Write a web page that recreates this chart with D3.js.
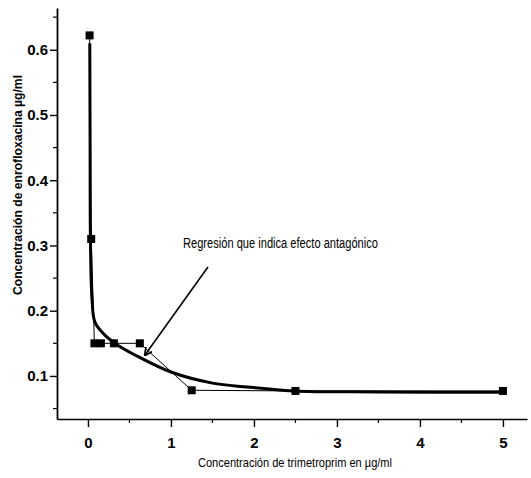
<!DOCTYPE html>
<html>
<head>
<meta charset="utf-8">
<script src="https://cdn.jsdelivr.net/npm/d3@7"></script>
<style>
  body { margin: 0; background: #fff; }
  text { fill: #000; }
</style>
</head>
<body>
<svg id="chart" width="531" height="478"></svg>
<script>
// measured points (trimetoprim vs enrofloxacina)
const trimetoprim = [0.0195, 0.039, 0.078, 0.156, 0.3125, 0.625, 1.25, 2.5, 5];
const enrofloxacina = [0.622, 0.31, 0.15, 0.15, 0.15, 0.15, 0.078, 0.077, 0.077];

// regression curve
const curveX = [0.022, 0.026, 0.03, 0.05, 0.085, 0.2, 0.35, 0.63, 1.0, 1.5, 1.92, 2.47, 3.5, 5.0];
const curveY = [0.61, 0.45, 0.31, 0.215, 0.182, 0.163, 0.148, 0.128, 0.106, 0.089, 0.083, 0.077, 0.0755, 0.075];

const xTicks = [0, 1, 2, 3, 4, 5];
const xMinor = [0.5, 1.5, 2.5, 3.5, 4.5];
const yTicks = [0.1, 0.2, 0.3, 0.4, 0.5, 0.6];
const yMinor = [0.05, 0.15, 0.25, 0.35, 0.45, 0.55, 0.65];

const note = "Regresión que indica efecto antagónico";
// arrow from label to curve, in data units
const arrowFrom = [1.446, 0.267];
const arrowTo = [0.687, 0.132];

const svg = d3.select('#chart');

const x = d3.scaleLinear().domain([-0.373, 5.29]).range([57, 527]);
const y = d3.scaleLinear().domain([0.034, 0.664]).range([419, 8]);

const narrow = '"Liberation Sans Narrow", "Arial Narrow", "Liberation Sans", sans-serif';

// x axis
const gx = svg.append('g').attr('transform', `translate(0,${y.range()[0]})`);
gx.call(d3.axisBottom(x).tickValues(xTicks).tickSize(8).tickSizeOuter(0).tickFormat(d3.format('d')));
gx.select('.domain').attr('stroke-width', 1.6);
gx.selectAll('.tick line').attr('stroke-width', 1.4);
gx.selectAll('.tick text')
    .attr('y', 18).attr('dy', '0.71em')
    .style('font-family', narrow).style('font-weight', 'bold').style('font-size', '15px');
gx.selectAll('.minor').data(xMinor).enter().append('line')
    .attr('x1', d => x(d)).attr('x2', d => x(d))
    .attr('y1', 0).attr('y2', 4)
    .attr('stroke', '#000').attr('stroke-width', 1.2);

// y axis
const gy = svg.append('g').attr('transform', `translate(${x.range()[0]},0)`);
gy.call(d3.axisLeft(y).tickValues(yTicks).tickSize(7).tickSizeOuter(0).tickFormat(d3.format('.1f')));
gy.select('.domain').attr('stroke-width', 1.8);
gy.selectAll('.tick line').attr('stroke-width', 1.4);
gy.selectAll('.tick text')
    .attr('x', -9)
    .style('font-family', narrow).style('font-weight', 'bold').style('font-size', '15px');
gy.selectAll('.minor').data(yMinor).enter().append('line')
    .attr('y1', d => y(d)).attr('y2', d => y(d))
    .attr('x1', 0).attr('x2', -4)
    .attr('stroke', '#000').attr('stroke-width', 1.2);

// axis titles
svg.append('text')
    .attr('x', 295).attr('y', 467)
    .attr('text-anchor', 'middle')
    .attr('textLength', 194).attr('lengthAdjust', 'spacingAndGlyphs')
    .style('font-family', narrow).style('font-size', '13px')
    .text('Concentración de trimetroprim en µg/ml');

svg.append('text')
    .attr('transform', 'translate(22,185) rotate(-90)')
    .attr('text-anchor', 'middle')
    .attr('textLength', 220).attr('lengthAdjust', 'spacingAndGlyphs')
    .style('font-family', '"Liberation Sans", Arial, sans-serif')
    .style('font-weight', 'bold').style('font-size', '12px')
    .text('Concentración de enrofloxacina µg/ml');

// thin line through measured points
const pts = trimetoprim.map((d, i) => [d, enrofloxacina[i]]);
svg.append('path')
    .datum(pts)
    .attr('fill', 'none').attr('stroke', '#000').attr('stroke-width', 1)
    .attr('d', d3.line().x(d => x(d[0])).y(d => y(d[1])));

// regression curve
const cpts = curveX.map((d, i) => [d, curveY[i]]);
svg.append('path')
    .datum(cpts)
    .attr('fill', 'none').attr('stroke', '#000').attr('stroke-width', 3)
    .attr('stroke-linejoin', 'round')
    .attr('d', d3.line().x(d => x(d[0])).y(d => y(d[1])).curve(d3.curveCatmullRom.alpha(0.5)));

// squares
svg.selectAll('.pt').data(pts).enter().append('rect')
    .attr('x', d => x(d[0]) - 4).attr('y', d => y(d[1]) - 4)
    .attr('width', 8).attr('height', 8)
    .attr('fill', '#000');

// annotation arrow
svg.append('defs').append('marker')
    .attr('id', 'head').attr('viewBox', '0 0 10 10')
    .attr('refX', 9).attr('refY', 5)
    .attr('markerWidth', 8).attr('markerHeight', 8)
    .attr('markerUnits', 'userSpaceOnUse')
    .attr('orient', 'auto')
    .append('path').attr('d', 'M0,0 L10,5 L0,10').attr('fill', 'none')
    .attr('stroke', '#000').attr('stroke-width', 2);

svg.append('line')
    .attr('x1', x(arrowFrom[0])).attr('y1', y(arrowFrom[1]))
    .attr('x2', x(arrowTo[0])).attr('y2', y(arrowTo[1]))
    .attr('stroke', '#000').attr('stroke-width', 1.6)
    .attr('marker-end', 'url(#head)');

svg.append('text')
    .attr('x', x(1.145)).attr('y', 248)
    .attr('textLength', 195).attr('lengthAdjust', 'spacingAndGlyphs')
    .style('font-family', narrow).style('font-size', '14px')
    .text(note);
</script>
</body>
</html>
